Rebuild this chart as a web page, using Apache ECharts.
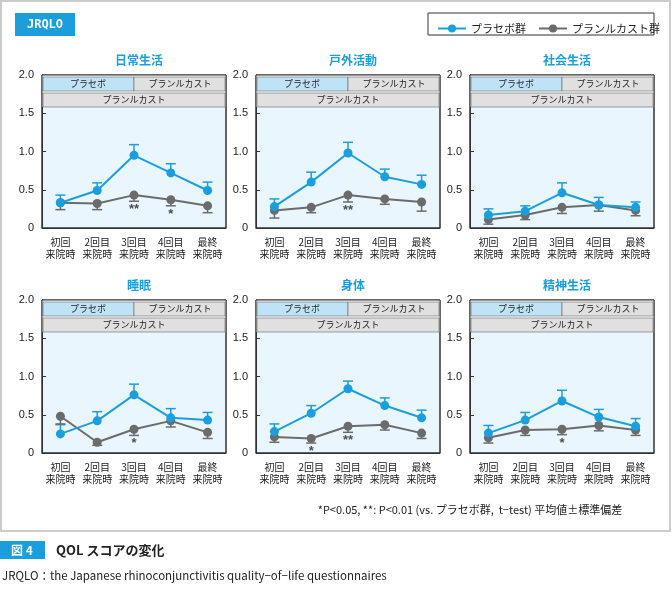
<!DOCTYPE html>
<html><head><meta charset="utf-8">
<script src="https://cdn.jsdelivr.net/npm/echarts@6/dist/echarts.min.js"></script>
<style>body{margin:0;background:#fff}#c{width:672px;height:589px}</style>
</head><body><div id="c"></div>
<script>
const categories = ['初回\n来院時', '2回目\n来院時', '3回目\n来院時', '4回目\n来院時', '最終\n来院時'];
const titles = ['日常生活', '戸外活動', '社会生活', '睡眠', '身体', '精神生活'];
const placebo = [
  [0.33, 0.49, 0.95, 0.72, 0.49],
  [0.28, 0.60, 0.98, 0.67, 0.57],
  [0.17, 0.22, 0.46, 0.30, 0.27],
  [0.25, 0.42, 0.76, 0.46, 0.43],
  [0.28, 0.52, 0.84, 0.62, 0.46],
  [0.26, 0.43, 0.68, 0.47, 0.35]
];
const placeboSd = [
  [0.10, 0.10, 0.14, 0.12, 0.11],
  [0.10, 0.13, 0.14, 0.10, 0.12],
  [0.08, 0.07, 0.13, 0.10, 0.07],
  [0.12, 0.12, 0.14, 0.12, 0.10],
  [0.10, 0.10, 0.10, 0.10, 0.10],
  [0.10, 0.10, 0.14, 0.10, 0.10]
];
const pranlukast = [
  [0.33, 0.32, 0.43, 0.37, 0.29],
  [0.23, 0.27, 0.43, 0.38, 0.34],
  [0.11, 0.17, 0.27, 0.30, 0.23],
  [0.48, 0.14, 0.31, 0.42, 0.27],
  [0.21, 0.19, 0.35, 0.37, 0.26],
  [0.20, 0.30, 0.31, 0.36, 0.30]
];
const pranlukastSd = [
  [0.09, 0.08, 0.08, 0.08, 0.09],
  [0.10, 0.07, 0.09, 0.07, 0.12],
  [0.06, 0.06, 0.08, 0.08, 0.07],
  [0.10, 0.04, 0.08, 0.08, 0.08],
  [0.07, 0.06, 0.08, 0.07, 0.07],
  [0.07, 0.07, 0.07, 0.07, 0.07]
];
const stars = [
  ['', '', '**', '*', ''],
  ['', '', '**', '', ''],
  ['', '', '', '', ''],
  ['', '', '*', '', ''],
  ['', '*', '**', '', ''],
  ['', '', '*', '', '']
];

const BLUE = '#1a9fdc', GRAY = '#6b6b6b';
const FONT = '"Noto Sans CJK JP", sans-serif';
const chart = echarts.init(document.getElementById('c'));
const lefts = [42, 256, 470], tops = [75, 300], W = 184, H = 153;
const grid = [], xAxis = [], yAxis = [], series = [], title = [], graphic = [];

function errSeries(i, vals, sd, dir, color) {
  return {
    type: 'custom', xAxisIndex: i, yAxisIndex: i, z: 3,
    data: vals.map((v, k) => [k, v, v + dir * sd[k]]),
    renderItem: (p, api) => {
      const a = api.coord([api.value(0), api.value(1)]);
      const b = api.coord([api.value(0), api.value(2)]);
      const st = { stroke: color, lineWidth: 1.5 };
      return { type: 'group', children: [
        { type: 'line', shape: { x1: a[0], y1: a[1], x2: b[0], y2: b[1] }, style: st },
        { type: 'line', shape: { x1: b[0] - 5, y1: b[1], x2: b[0] + 5, y2: b[1] }, style: st }
      ]};
    }
  };
}

for (let i = 0; i < 6; i++) {
  const L = lefts[i % 3], T = tops[Math.floor(i / 3)];
  grid.push({ left: L, top: T, width: W, height: H, show: true, backgroundColor: '#e9f6fd', borderColor: '#333', borderWidth: 1 });
  xAxis.push({ type: 'category', gridIndex: i, data: categories,
    axisLine: { lineStyle: { color: '#333' } }, axisTick: { alignWithLabel: true, lineStyle: { color: '#333' } },
    axisLabel: { fontSize: 10, color: '#222', fontFamily: FONT, lineHeight: 12, interval: 0 } });
  yAxis.push({ type: 'value', gridIndex: i, min: 0, max: 2, interval: 0.5,
    axisLine: { show: true, lineStyle: { color: '#333' } }, axisTick: { show: true, inside: true, length: 4 }, splitLine: { show: false },
    axisLabel: { fontSize: 11, color: '#222', formatter: v => v === 0 ? '0' : v.toFixed(1) } });
  title.push({ text: titles[i], left: L + W / 2, top: T - 26, textAlign: 'center',
    textStyle: { fontSize: 12, fontWeight: 'bold', color: BLUE, fontFamily: FONT } });
  graphic.push(
    { type: 'rect', shape: { x: L, y: T, width: W, height: 32 }, style: { fill: '#fff' }, z: 5 },
    { type: 'rect', shape: { x: L + 1, y: T + 2, width: W / 2 - 1, height: 14 }, style: { fill: '#bfe3f6', stroke: '#666', lineWidth: 0.6 }, z: 6 },
    { type: 'rect', shape: { x: L + W / 2, y: T + 2, width: W / 2 - 1, height: 14 }, style: { fill: '#e0e0e0', stroke: '#666', lineWidth: 0.6 }, z: 6 },
    { type: 'rect', shape: { x: L + 1, y: T + 18, width: W - 2, height: 14 }, style: { fill: '#e0e0e0', stroke: '#666', lineWidth: 0.6 }, z: 6 },
    { type: 'text', x: L + W / 4, y: T + 9, style: { text: 'プラセボ', fontSize: 9, fill: '#222', align: 'center', verticalAlign: 'middle', fontFamily: FONT }, z: 7 },
    { type: 'text', x: L + W * 3 / 4, y: T + 9, style: { text: 'プランルカスト', fontSize: 9, fill: '#222', align: 'center', verticalAlign: 'middle', fontFamily: FONT }, z: 7 },
    { type: 'text', x: L + W / 2, y: T + 25, style: { text: 'プランルカスト', fontSize: 9, fill: '#222', align: 'center', verticalAlign: 'middle', fontFamily: FONT }, z: 7 },
    { type: 'rect', shape: { x: L, y: T, width: W, height: H }, style: { fill: 'none', stroke: '#333', lineWidth: 1 }, z: 8 }
  );
  series.push(errSeries(i, placebo[i], placeboSd[i], 1, BLUE));
  series.push(errSeries(i, pranlukast[i], pranlukastSd[i], -1, GRAY));
  series.push({ name: 'プランルカスト群', type: 'line', xAxisIndex: i, yAxisIndex: i, data: pranlukast[i], z: 4,
    symbol: 'circle', symbolSize: 9, itemStyle: { color: GRAY }, lineStyle: { color: GRAY, width: 2 } });
  series.push({ name: 'プラセボ群', type: 'line', xAxisIndex: i, yAxisIndex: i, data: placebo[i], z: 4,
    symbol: 'circle', symbolSize: 9, itemStyle: { color: BLUE }, lineStyle: { color: BLUE, width: 2 } });
  series.push({ type: 'scatter', xAxisIndex: i, yAxisIndex: i, symbolSize: 1, silent: true, z: 6,
    itemStyle: { color: 'rgba(0,0,0,0)' },
    data: stars[i].map((s, k) => s ? { value: [k, pranlukast[i][k] - pranlukastSd[i][k] - 0.11], label: { show: true, position: 'inside', formatter: s, fontSize: 13, color: '#222', fontWeight: 'bold' } } : null).filter(Boolean) });
}

graphic.push(
  { type: 'rect', shape: { x: 1, y: 1, width: 669, height: 530 }, style: { fill: 'none', stroke: '#ccc', lineWidth: 2 }, z: 0 },
  { type: 'rect', shape: { x: 15, y: 13, width: 60, height: 23 }, style: { fill: BLUE }, z: 1 },
  { type: 'text', x: 45, y: 25, style: { text: 'JRQLO', fill: '#fff', fontSize: 12, fontWeight: 'bold', align: 'center', verticalAlign: 'middle', fontFamily: 'DejaVu Sans Mono' }, z: 2 },
  { type: 'rect', shape: { x: 428, y: 13, width: 226, height: 22 }, style: { fill: '#fff', stroke: '#333', lineWidth: 1 }, z: 1 },
  { type: 'text', x: 470, y: 510, style: { text: '*P<0.05, **: P<0.01 (vs. プラセボ群,  t−test) 平均値±標準偏差', fill: '#222', fontSize: 11, align: 'center', verticalAlign: 'middle', fontFamily: FONT } },
  { type: 'rect', shape: { x: 0, y: 541, width: 45, height: 18 }, style: { fill: BLUE } },
  { type: 'text', x: 22, y: 550, style: { text: '図 4', fill: '#fff', fontSize: 12, fontWeight: 'bold', align: 'center', verticalAlign: 'middle', fontFamily: FONT } },
  { type: 'text', x: 56, y: 550, style: { text: 'QOL スコアの変化', fill: '#222', fontSize: 13, fontWeight: 'bold', verticalAlign: 'middle', fontFamily: FONT } },
  { type: 'text', x: 2, y: 576, style: { text: 'JRQLO：the Japanese rhinoconjunctivitis quality−of−life questionnaires', fill: '#222', fontSize: 11.5, verticalAlign: 'middle', fontFamily: FONT } }
);

chart.setOption({
  animation: false,
  title, grid, xAxis, yAxis, series, graphic,
  legend: { data: ['プラセボ群', 'プランルカスト群'], orient: 'horizontal', left: 432, top: 18, width: 230, itemGap: 12, itemWidth: 28, itemHeight: 10,
    textStyle: { fontSize: 11, color: '#222', fontFamily: FONT } }
});
</script></body></html>
